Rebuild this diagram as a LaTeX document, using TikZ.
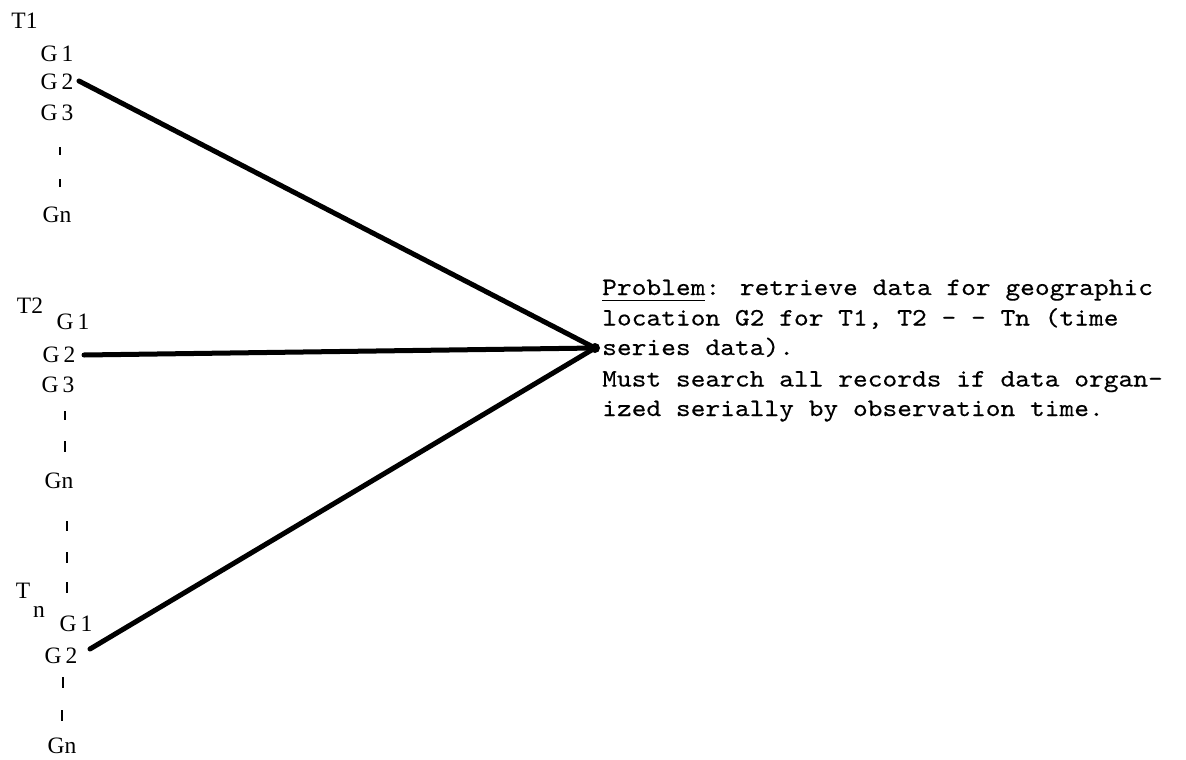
\documentclass[tikz,border=0pt]{standalone}
\usepackage{fontspec}
\setmainfont{Liberation Serif}
\newfontfamily\twfont[Extension=.otf, FakeStretch=1.124, FakeBold=0.3]{lmmono10-regular}
\begin{document}
\begin{tikzpicture}[x=1pt,y=-1pt,
  lbl/.style={font=\fontsize{23.5}{28}\selectfont, inner sep=0pt},
  txt/.style={font=\twfont\fontsize{25}{30}\selectfont, inner sep=0pt, anchor=base west},
  tickmark/.style={line width=2pt},
  ray/.style={line width=5pt, line cap=round}]
\path[use as bounding box] (0,0) rectangle (1186,760);

% first time group
\node[lbl] (t1) at (24.5,21) {T1};
\node[lbl] (g1a) at (57,54) {G\,1};
\node[lbl] (g2a) at (57,82) {G\,2};
\node[lbl] (g3a) at (57,113) {G\,3};
\draw[tickmark] (60,147) -- (60,155);
\draw[tickmark] (60,179) -- (60,187);
\node[lbl] (gna) at (57,215) {Gn};

% second time group
\node[lbl] (t2) at (30,306) {T2};
\node[lbl] (g1b) at (73,322) {G\,1};
\node[lbl] (g2b) at (59,355) {G\,2};
\node[lbl] (g3b) at (58,385) {G\,3};
\draw[tickmark] (65,411) -- (65,420);
\draw[tickmark] (65,441) -- (65,452);
\node[lbl] (gnb) at (59,481) {Gn};
\draw[tickmark] (67,521) -- (67,531);
\draw[tickmark] (67,552) -- (67,563);
\draw[tickmark] (67,582) -- (67,593);

% n-th time group
\node[lbl] (tn) at (23,591) {T};
\node[lbl] (tnn) at (39,612) {n};
\node[lbl] (g1c) at (76,624) {G\,1};
\node[lbl] (g2c) at (61,656) {G\,2};
\draw[tickmark] (63,677) -- (63,688);
\draw[tickmark] (62,710) -- (62,721);
\node[lbl] (gnc) at (62,746) {Gn};

% rays
\coordinate (s1) at (79,81);
\coordinate (s2) at (84,355);
\coordinate (s3) at (90,649);
\coordinate (hub) at (595,348);
\draw[ray] (s1) -- (hub);
\draw[ray] (s2) -- (hub);
\draw[ray] (s3) -- (hub);
\fill (hub) circle (5);

% text
\node[txt] (p1) at (602,295) {Problem: retrieve data for geographic};
\node[txt] (p2) at (602,325.5) {location G2 for T1, T2 - - Tn (time};
\node[txt] (p3) at (602,355) {series data).};
\node[txt] (p4) at (602,386.5) {Must search all records if data organ-};
\node[txt] (p5) at (602,416) {ized serially by observation time.};
\draw[line width=1.2pt] ([yshift=-5.5pt]p1.base west) -- ++(103,0);
\end{tikzpicture}
\end{document}
